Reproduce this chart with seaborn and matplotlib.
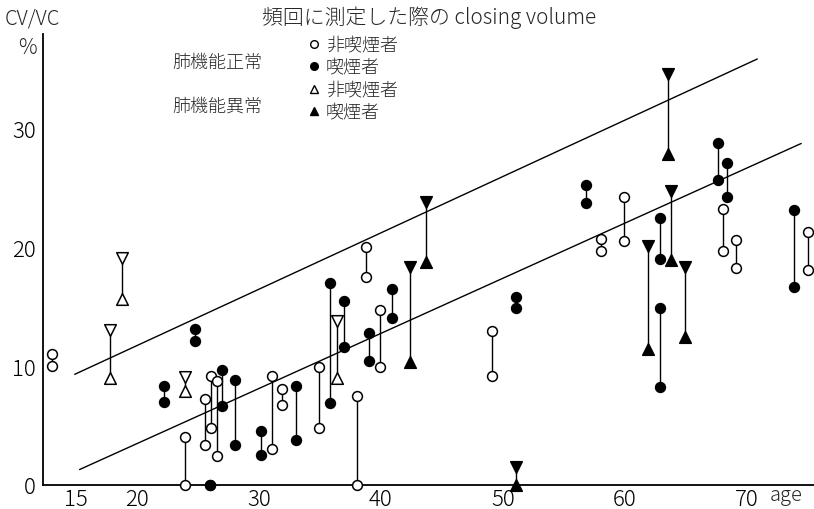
import matplotlib
matplotlib.use("Agg")
import matplotlib.pyplot as plt
import pandas as pd
import seaborn as sns

# Closing volume (CV/VC %) measured repeatedly; each subject: age, highest and lowest value
normal_nonsmoker_age = [13.0, 23.9, 25.6, 26.1, 26.6, 31.1, 31.9, 34.9, 38.0, 38.8,
                        39.9, 49.1, 58.0, 59.9, 68.0, 69.1, 75.0]
normal_nonsmoker_high = [11.0, 4.0, 7.2, 9.2, 8.7, 9.2, 8.1, 9.9, 7.5, 20.0,
                         14.7, 12.9, 20.7, 24.2, 23.2, 20.6, 21.3]
normal_nonsmoker_low = [10.0, 0.0, 3.4, 4.8, 2.4, 3.0, 6.7, 4.8, 0.0, 17.5,
                        9.9, 9.2, 19.7, 20.5, 19.7, 18.2, 18.1]

normal_smoker_age = [22.2, 24.75, 26.0, 27.0, 28.0, 30.2, 33.0, 35.8, 37.0, 39.0,
                     40.9, 51.1, 56.8, 62.9, 62.9, 67.6, 68.4, 73.9]
normal_smoker_high = [8.3, 13.1, 0.0, 9.7, 8.8, 4.5, 8.3, 17.0, 15.5, 12.8,
                      16.5, 15.8, 25.2, 22.4, 14.9, 28.7, 27.1, 23.1]
normal_smoker_low = [7.0, 12.1, 0.0, 6.6, 3.4, 2.5, 3.8, 6.9, 11.6, 10.4,
                     14.0, 14.9, 23.7, 19.0, 8.2, 25.6, 24.2, 16.6]

abnormal_nonsmoker_age = [17.8, 18.8, 23.9, 36.4]
abnormal_nonsmoker_high = [13.0, 19.1, 9.1, 13.8]
abnormal_nonsmoker_low = [9.0, 15.6, 7.9, 9.0]

abnormal_smoker_age = [42.4, 43.7, 51.1, 61.9, 63.5, 63.8, 64.9]
abnormal_smoker_high = [18.3, 23.8, 1.5, 20.1, 34.5, 24.7, 18.3]
abnormal_smoker_low = [10.3, 18.7, 0.0, 11.4, 27.8, 18.9, 12.4]

# Two reference lines (end points)
upper_line_age = [14.9, 70.85]
upper_line_cv = [9.3, 35.8]
lower_line_age = [15.3, 74.45]
lower_line_cv = [1.3, 28.7]

x_ticks = [15, 20, 30, 40, 50, 60, 70]
y_ticks = [0, 10, 20, 30]

title = "頻回に測定した際の closing volume"
legend_groups = ["肺機能正常", "肺機能異常"]
legend_labels = ["非喫煙者", "喫煙者", "非喫煙者", "喫煙者"]

sns.set_theme(style="white")
plt.rcParams["font.family"] = ["Noto Sans CJK JP", "DejaVu Sans"]

W, H = 814, 510
fig = plt.figure(figsize=(W / 100, H / 100), dpi=100)
ax = fig.add_axes([43 / W, 24 / H, (W - 43) / W, 451 / H])


def frame(age, high, low):
    return pd.DataFrame({"age": list(age) * 2, "cv": list(high) + list(low),
                         "pos": ["high"] * len(age) + ["low"] * len(age)})


groups = [
    (normal_nonsmoker_age, normal_nonsmoker_high, normal_nonsmoker_low, "o", "o", "white", 50),
    (normal_smoker_age, normal_smoker_high, normal_smoker_low, "o", "o", "black", 50),
    (abnormal_nonsmoker_age, abnormal_nonsmoker_high, abnormal_nonsmoker_low, "v", "^", "white", 70),
    (abnormal_smoker_age, abnormal_smoker_high, abnormal_smoker_low, "v", "^", "black", 70),
]

for age, high, low, m_high, m_low, face, size in groups:
    ax.vlines(age, low, high, color="black", lw=1.0, zorder=2)
    df = frame(age, high, low)
    for pos, mk in (("high", m_high), ("low", m_low)):
        sns.scatterplot(data=df[df["pos"] == pos], x="age", y="cv", marker=mk, s=size,
                        color=face, edgecolor="black", linewidth=1.1, ax=ax,
                        clip_on=False, zorder=3, legend=False)

sns.lineplot(x=upper_line_age, y=upper_line_cv, color="black", lw=1.0, ax=ax)
sns.lineplot(x=lower_line_age, y=lower_line_cv, color="black", lw=1.0, ax=ax)

ax.set_xlim(12.3, 75.5)
ax.set_ylim(0, 37.9)
ax.set_xticks(x_ticks)
ax.set_yticks(y_ticks)
ax.set_xticklabels([str(t) for t in x_ticks])
ax.set_yticklabels([str(t) for t in y_ticks])
ax.tick_params(axis="x", direction="in", length=5, width=1.0, labelsize=16, pad=2, colors="black")
ax.tick_params(axis="y", direction="inout", length=6, width=1.0, labelsize=16, pad=2, colors="black")
ax.set_xlabel("")
ax.set_ylabel("")
for s in ("top", "right"):
    ax.spines[s].set_visible(False)
for s in ("left", "bottom"):
    ax.spines[s].set_color("black")
    ax.spines[s].set_linewidth(1.3)
for lbl in ax.get_xticklabels() + ax.get_yticklabels():
    lbl.set_fontweight("light")


def px(x, y):
    return x / W, 1 - y / H


fig.text(*px(32, 19), "CV/VC", ha="center", va="center", fontsize=14.5, fontweight="light")
fig.text(*px(27, 48), "%", ha="center", va="center", fontsize=15, fontweight="light")
fig.text(*px(786, 496), "age", ha="center", va="center", fontsize=14.5, fontweight="light")
fig.text(*px(262, 18), title, ha="left", va="center", fontsize=15, fontweight="light")

fig.text(*px(172, 63), legend_groups[0], ha="left", va="center", fontsize=13, fontweight="light")
fig.text(*px(172, 107), legend_groups[1], ha="left", va="center", fontsize=13, fontweight="light")

legend_markers = [("o", "white"), ("o", "black"), ("^", "white"), ("^", "black")]
legend_y = [45, 67, 90, 112]
for (mk, face), ly, lab in zip(legend_markers, legend_y, legend_labels):
    fx, fy = px(314, ly)
    fig.lines.append(plt.Line2D([fx], [fy], marker=mk, markersize=5.5, markerfacecolor=face,
                                markeredgecolor="black", markeredgewidth=1.0, linestyle="none",
                                transform=fig.transFigure))
    fig.text(*px(326, ly), lab, ha="left", va="center", fontsize=13, fontweight="light")

fig.savefig("out.png", dpi=100)
